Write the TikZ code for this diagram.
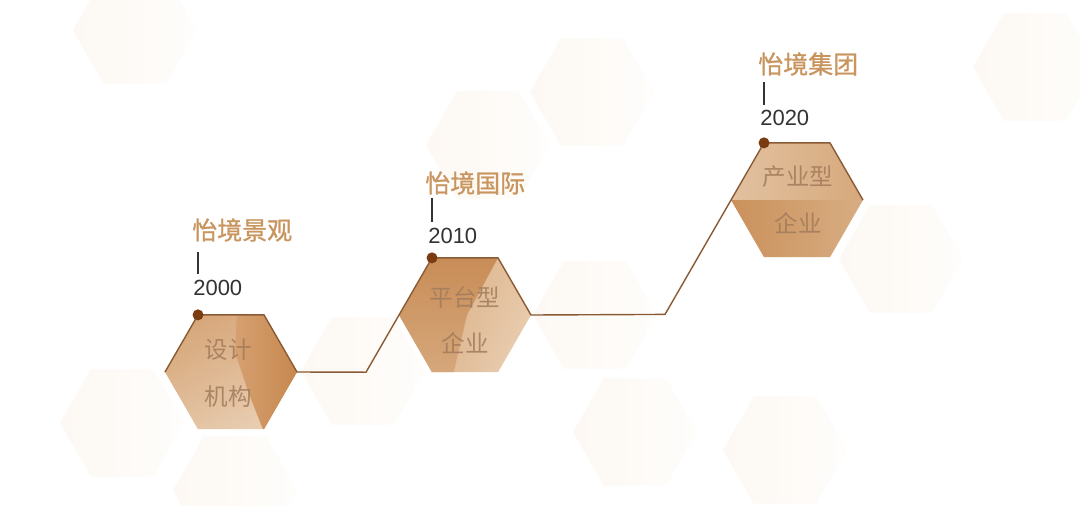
\documentclass[tikz,border=0pt]{standalone}
\usepackage{fontspec}
\setmainfont{Liberation Sans}
\newfontfamily\cjk{Noto Sans CJK SC}
\newfontfamily\cjkb{Noto Sans CJK SC}[FakeBold=1.0]
\usetikzlibrary{shapes.geometric,calc,shadings}
\definecolor{linec}{HTML}{8A5A34}
\definecolor{dotc}{HTML}{7A3B10}
\definecolor{titlec}{HTML}{C9955F}
\definecolor{yearc}{HTML}{333333}
\definecolor{hextxt}{HTML}{A27B5B}
\definecolor{bgA}{HTML}{FDF8F3}
\definecolor{bgB}{HTML}{FEFDFB}
% hex 1
\definecolor{aUL}{HTML}{D3A070}
\definecolor{aUR}{HTML}{DDB28A}
\definecolor{aLL}{HTML}{E2C09E}
\definecolor{aLR}{HTML}{ECD6BE}
\definecolor{aDL}{HTML}{D5A070}
\definecolor{aDR}{HTML}{C6864D}
% hex 2
\definecolor{bUL}{HTML}{D6A87A}
\definecolor{bUR}{HTML}{E5C4A2}
\definecolor{bLL}{HTML}{D8AC80}
\definecolor{bLR}{HTML}{ECD4BB}
\definecolor{bDT}{HTML}{C88C56}
\definecolor{bDB}{HTML}{D6A87C}
% hex 3
\definecolor{cTL}{HTML}{E2C2A2}
\definecolor{cTR}{HTML}{D6A87A}
\definecolor{cBL}{HTML}{CA905A}
\definecolor{cBR}{HTML}{D8AE84}
\begin{document}
\begin{tikzpicture}[x=0.02cm,y=-0.02cm,
  hexnode/.style={regular polygon, regular polygon sides=6, minimum size=2.64cm, inner sep=0pt, outer sep=0pt, draw=none},
  bghex/.style={regular polygon, regular polygon sides=6, minimum size=2.48cm, inner sep=0pt, outer sep=0pt, draw=none, left color=bgA, right color=bgB},
  conn/.style={draw=linec, line width=0.8pt, line join=miter},
  dotnode/.style={circle, fill=dotc, inner sep=0pt, minimum size=0.22cm},
  titlenode/.style={inner sep=0pt, anchor=west, text=titlec, font=\cjkb\fontsize{14.2pt}{16pt}\selectfont},
  yearnode/.style={inner sep=0pt, anchor=west, text=yearc, font=\fontsize{12.5pt}{14pt}\selectfont},
  ticklinestyle/.style={draw=yearc, line width=0.6pt},
  hextext/.style={inner sep=0pt, text=hextxt, text opacity=0.85, font=\cjk\fontsize{13.4pt}{15pt}\selectfont}
]
\useasboundingbox[fill=white] (0,0) rectangle (1080,505);

% faint background hexagons
\node[bghex] (b1) at (135,30) {};
\node[bghex] (b2) at (592,92) {};
\node[bghex] (b3) at (488,145) {};
\node[bghex] (b4) at (1035,67) {};
\node[bghex] (b5) at (901,259) {};
\node[bghex] (b6) at (595,315) {};
\node[bghex] (b7) at (635,432) {};
\node[bghex] (b8) at (785,450) {};
\node[bghex] (b9) at (122,423) {};
\node[bghex] (b10) at (235,490) {};
\node[bghex] (b11) at (363,371) {};

% main hexagons
\node[hexnode] (h1) at (231,372) {};
\node[hexnode] (h2) at (465,315) {};
\node[hexnode] (h3) at (797,200) {};

\begin{scope}[shift={(h1.center)}]
  \clip (-33,-57.2) -- (33,-57.2) -- (66,0) -- (33,57.2) -- (-33,57.2) -- (-66,0) -- cycle;
  \shade[upper left=aUL, upper right=aUR, lower left=aLL, lower right=aLR] (-70,-60) rectangle (70,60);
  \shade[left color=aDL, right color=aDR] (6,-60) -- (70,-60) -- (70,60) -- (33,60) -- (18,22) -- (4,-20) -- cycle;
\end{scope}

\begin{scope}[shift={(h2.center)}]
  \clip (-33,-57.2) -- (33,-57.2) -- (66,0) -- (33,57.2) -- (-33,57.2) -- (-66,0) -- cycle;
  \shade[upper left=bUL, upper right=bUR, lower left=bLL, lower right=bLR] (-70,-60) rectangle (70,60);
  \shade[top color=bDT, bottom color=bDB] (-70,-60) -- (33,-60) -- (33,-57.2) -- (2,0) -- (-12,60) -- (-70,60) -- cycle;
\end{scope}

\begin{scope}[shift={(h3.center)}]
  \clip (-33,-57.2) -- (33,-57.2) -- (66,0) -- (33,57.2) -- (-33,57.2) -- (-66,0) -- cycle;
  \shade[left color=cTL, right color=cTR] (-70,-60) rectangle (70,0);
  \shade[left color=cBL, right color=cBR] (-70,0) rectangle (70,60);
\end{scope}

% hexagon texts
\node[hextext] (h1a) at ($(h1)+(-3,-22)$) {设计};
\node[hextext] (h1b) at ($(h1)+(-3,25)$) {机构};
\node[hextext] (h2a) at ($(h2)+(0,-18)$) {平台型};
\node[hextext] (h2b) at ($(h2)+(0,28)$) {企业};
\node[hextext] (h3a) at ($(h3)+(1,-23)$) {产业型};
\node[hextext] (h3b) at ($(h3)+(1,23)$) {企业};

% connector
\coordinate (k1) at ($(h2.180)+(-33,57.2)$);
\coordinate (k2) at ($(h3.180)+(-66,114.4)$);
\draw[conn] (h1.180) -- (h1.120) -- (h1.60) -- (h1.0) -- (k1) -- (h2.120) -- (h2.60) -- (h2.0) -- (k2) -- (h3.120) -- (h3.60) -- (h3.0);

% dots
\node[dotnode] (d1) at (h1.120) {};
\node[dotnode] (d2) at (h2.120) {};
\node[dotnode] (d3) at (h3.120) {};

% labels
\node[titlenode] (t1) at (192,230) {怡境景观};
\node[yearnode] (y1) at (193,288) {2000};
\draw[ticklinestyle] ($(d1)+(0,-41)$) -- ($(d1)+(0,-63)$);

\node[titlenode] (t2) at (425,183) {怡境国际};
\node[yearnode] (y2) at (428,236) {2010};
\draw[ticklinestyle] ($(d2)+(0,-36)$) -- ($(d2)+(0,-60)$);

\node[titlenode] (t3) at (758,64) {怡境集团};
\node[yearnode] (y3) at (760,118) {2020};
\draw[ticklinestyle] ($(d3)+(0,-38)$) -- ($(d3)+(0,-61)$);
\end{tikzpicture}
\end{document}
